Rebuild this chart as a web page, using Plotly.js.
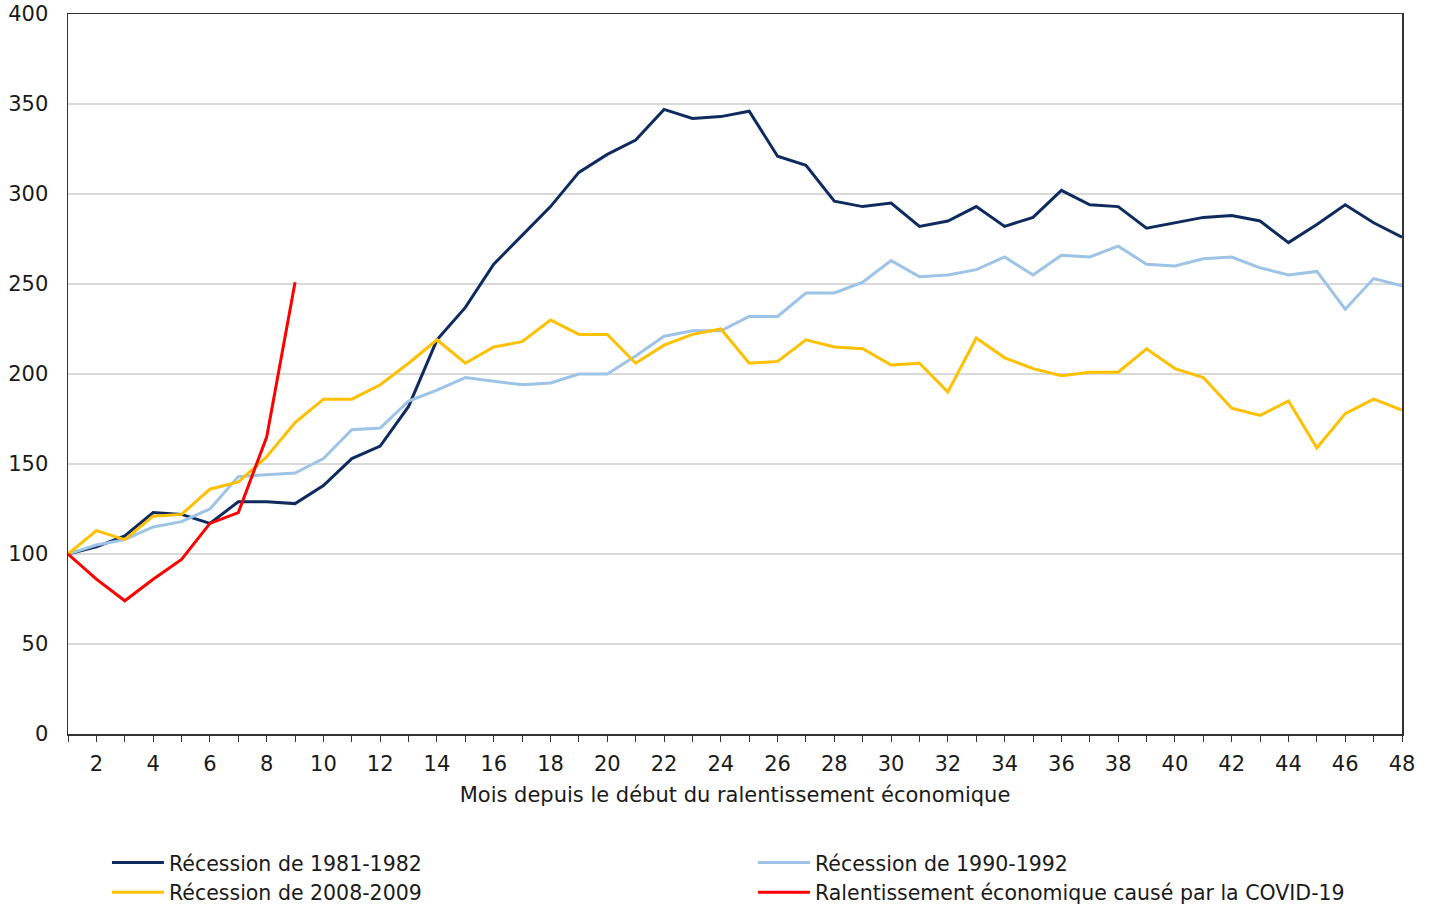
<!DOCTYPE html>
<html>
<head>
<meta charset="utf-8">
<script src="https://cdn.plot.ly/plotly-3.0.1.min.js"></script>
<style>html,body{margin:0;padding:0;background:#fff;}#chart{width:1434px;height:909px;}</style>
</head>
<body>
<div id="chart"></div>
<script>
const months = [1,2,3,4,5,6,7,8,9,10,11,12,13,14,15,16,17,18,19,20,21,22,23,24,25,26,27,28,29,30,31,32,33,34,35,36,37,38,39,40,41,42,43,44,45,46,47,48];
const rec1981 = [100,104,110,123,122,117,129,129,128,138,153,160,182,219,237,261,277,293,312,322,330,347,342,343,346,321,316,296,293,295,282,285,293,282,287,302,294,293,281,284,287,288,285,273,283,294,284,276];
const rec1990 = [100,105,108,115,118,125,143,144,145,153,169,170,185,191,198,196,194,195,200,200,210,221,224,224,232,232,245,245,251,263,254,255,258,265,255,266,265,271,261,260,264,265,259,255,257,236,253,249];
const rec2008 = [100,113,108,121,122,136,140,154,173,186,186,194,206,219,206,215,218,230,222,222,206,216,222,225,206,207,219,215,214,205,206,190,220,209,203,199,201,201,214,203,198,181,177,185,159,178,186,180];
const covid = [100,86,74,86,97,117,123,165,251];
const covidMonths = [1,2,3,4,5,6,7,8,9];
const seriesNames = ["Récession de 1981-1982","Récession de 1990-1992","Récession de 2008-2009","Ralentissement économique causé par la COVID-19"];
const xTickVals = months;
const xTickText = months.map(m => (m % 2 === 0 ? String(m) : ""));
const yTickVals = [0,50,100,150,200,250,300,350,400];

const colors = ["#0f2b5e","#9dc3e6","#ffc000","#ff0000"];
const traces = [
  {x: months, y: rec1981, name: seriesNames[0], legend: "legend", type: "scatter", mode: "lines", line: {color: colors[0], width: 3}},
  {x: months, y: rec1990, name: seriesNames[1], legend: "legend2", type: "scatter", mode: "lines", line: {color: colors[1], width: 3}},
  {x: months, y: rec2008, name: seriesNames[2], legend: "legend", type: "scatter", mode: "lines", line: {color: colors[2], width: 3}},
  {x: covidMonths, y: covid, name: seriesNames[3], legend: "legend2", type: "scatter", mode: "lines", line: {color: colors[3], width: 3}}
];
const font = {family: "DejaVu Sans, Verdana, sans-serif", size: 21, color: "#1a1a1a"};
const legendFont = {family: "DejaVu Sans, Verdana, sans-serif", size: 20.5, color: "#1a1a1a"};
const legendBase = {
  orientation: "v", xanchor: "left", y: -0.151, yanchor: "top",
  itemwidth: 52, font: legendFont, tracegroupgap: 0, bgcolor: "rgba(0,0,0,0)"
};
const layout = {
  width: 1434, height: 909,
  margin: {l: 68, r: 32, t: 14, b: 175, autoexpand: false},
  paper_bgcolor: "#fff", plot_bgcolor: "#fff",
  font: font,
  showlegend: true,
  xaxis: {
    range: [1, 48], tickvals: xTickVals, ticktext: xTickText,
    ticks: "outside", ticklen: 6, tickcolor: "#333", tickwidth: 1,
    showline: true, linecolor: "#333", linewidth: 1.5, mirror: true,
    showgrid: false, zeroline: false, tickfont: font, ticklabelstandoff: 4,
    title: {text: "Mois depuis le début du ralentissement économique", font: font, standoff: 12}
  },
  yaxis: {
    range: [0, 400], tickvals: yTickVals, ticks: "", ticklabelstandoff: 14,
    showline: true, linecolor: "#333", linewidth: 1.5, mirror: true,
    showgrid: true, gridcolor: "#d9d9d9", gridwidth: 1.5, zeroline: false, tickfont: font
  },
  legend: Object.assign({}, legendBase, {x: 0.0292}),
  legend2: Object.assign({}, legendBase, {x: 0.5135})
};
Plotly.newPlot("chart", traces, layout, {displayModeBar: false, staticPlot: true});
</script>
</body>
</html>
